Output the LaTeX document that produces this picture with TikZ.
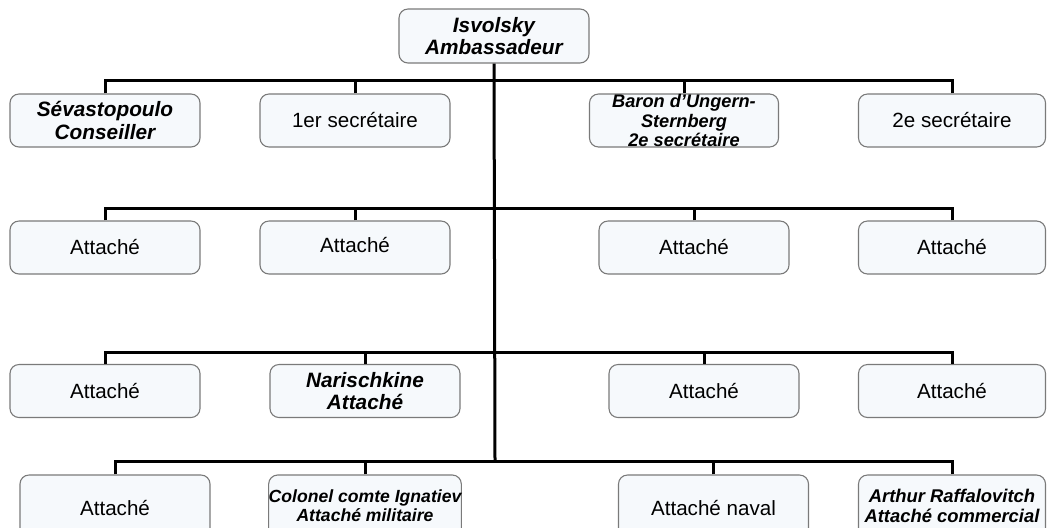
\documentclass[tikz,border=0pt]{standalone}
\usepackage{fontspec}
\setmainfont{Liberation Sans}
\definecolor{boxfill}{HTML}{F6F9FC}
\definecolor{boxline}{HTML}{7A7A7A}
\tikzset{
  orgbox/.style={draw=boxline, line width=0.55pt, fill=boxfill, rounded corners=4.5pt,
    minimum width=95pt, minimum height=26.5pt, inner sep=0pt, align=center,
    font=\fontsize{10.3}{11.5}\selectfont},
  namebox/.style={orgbox, font=\fontsize{10.4}{11}\selectfont\bfseries\itshape},
  smallname/.style={orgbox, font=\fontsize{9.1}{9.6}\selectfont\bfseries\itshape},
  conn/.style={draw=black, line width=1.5pt, line join=miter},
}
\begin{document}
\begin{tikzpicture}[x=0.5pt, y=-0.5pt]
\useasboundingbox (0,0) rectangle (1048,527);
\clip (0,0) rectangle (1048,527);
% top
\node[namebox, minimum width=95pt, minimum height=27pt] (top) at (494,36) {Isvolsky\\Ambassadeur};
% bus coordinates on trunk
\coordinate (bus1) at (495,80);
\coordinate (bus2) at (495,208);
\coordinate (bus3) at (495,352);
\coordinate (bus4) at (495,461);
% row 1
\node[namebox, font=\fontsize{10.4}{11.6}\selectfont\bfseries\itshape] (sev) at (105,120.5) {Sévastopoulo\\Conseiller};
\node[orgbox] (sec1) at (355,120.5) {1er secrétaire};
\node[smallname, minimum width=94.5pt] (baron) at (684,120.5) {Baron d’Ungern-\\Sternberg\\2e secrétaire};
\node[orgbox, minimum width=93.5pt] (sec2) at (952,120.5) {2e secrétaire};
% row 2
\node[orgbox] (a21) at (105,247.5) {Attaché};
\node[orgbox] (a22) at (355,247.5) {\raisebox{2.5pt}{Attaché}};
\node[orgbox] (a23) at (694,247.5) {Attaché};
\node[orgbox, minimum width=93.5pt] (a24) at (952,247.5) {Attaché};
% row 3
\node[orgbox] (a31) at (105,391) {Attaché};
\node[namebox] (nar) at (365,391) {Narischkine\\Attaché};
\node[orgbox] (a33) at (704,391) {Attaché};
\node[orgbox, minimum width=93.5pt] (a34) at (952,391) {Attaché};
% row 4
\node[orgbox, minimum height=33pt] (a41) at (115,508) {Attaché};
\node[orgbox, minimum height=33pt, font=\fontsize{8.8}{9.5}\selectfont\bfseries\itshape] (col) at (365,508)
  {\raisebox{2.8pt}{\begin{tabular}{@{}c@{}}Colonel comte Ignatiev\\[-0.3pt]Attaché militaire\end{tabular}}};
\node[orgbox, minimum height=33pt] (nav) at (713.5,508) {Attaché naval};
\node[orgbox, minimum width=93.5pt, minimum height=33pt, font=\fontsize{9.2}{10}\selectfont\bfseries\itshape] (art) at (952,508)
  {\raisebox{3pt}{\begin{tabular}{@{}c@{}}Arthur Raffalovitch\\Attaché commercial\end{tabular}}};
% connectors
\draw[conn] (top.south) -- (bus4);
\foreach \n in {sev,sec1,baron,sec2}{\draw[conn] (\n.north) |- (bus1);}
\foreach \n in {a21,a22,a23,a24}{\draw[conn] (\n.north) |- (bus2);}
\foreach \n in {a31,nar,a33,a34}{\draw[conn] (\n.north) |- (bus3);}
\foreach \n in {a41,col,nav,art}{\draw[conn] (\n.north) |- (bus4);}
\end{tikzpicture}
\end{document}
